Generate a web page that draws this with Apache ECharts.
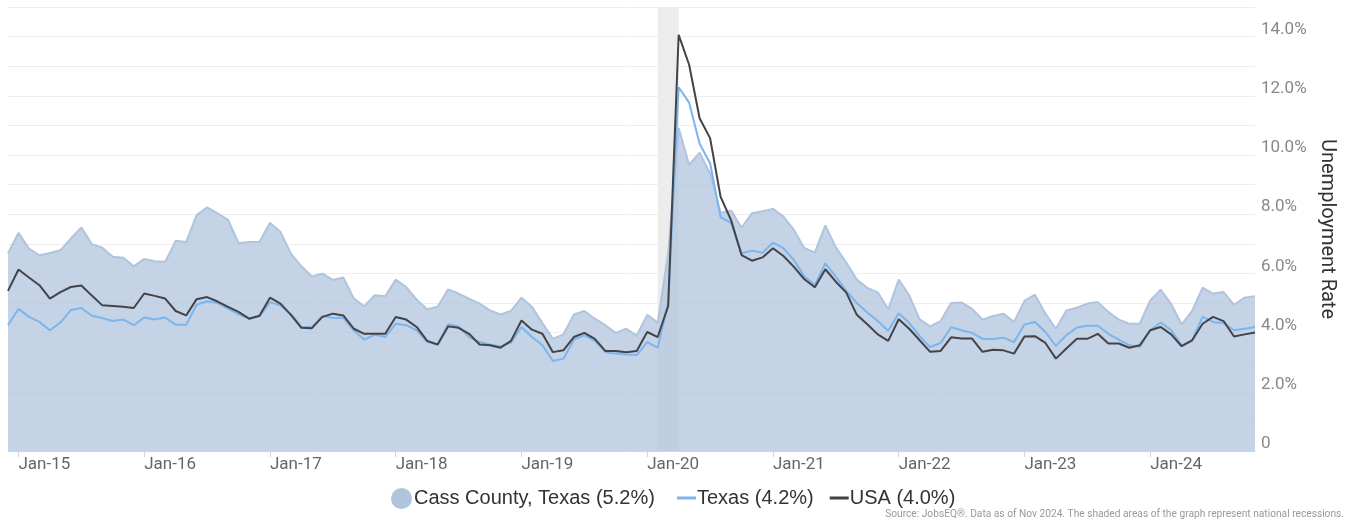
<!DOCTYPE html>
<html>
<head>
<meta charset="utf-8">
<script src="https://cdn.jsdelivr.net/npm/echarts@6/dist/echarts.min.js"></script>
<style>
  html, body { margin: 0; padding: 0; background: #ffffff; }
  #chart { width: 1348px; height: 521px; }
</style>
</head>
<body>
<div id="chart"></div>
<script>
// Monthly categories, Dec 2014 .. Nov 2024
const categories = [
  'Dec-14',
  'Jan-15','Feb-15','Mar-15','Apr-15','May-15','Jun-15','Jul-15','Aug-15','Sep-15','Oct-15','Nov-15','Dec-15',
  'Jan-16','Feb-16','Mar-16','Apr-16','May-16','Jun-16','Jul-16','Aug-16','Sep-16','Oct-16','Nov-16','Dec-16',
  'Jan-17','Feb-17','Mar-17','Apr-17','May-17','Jun-17','Jul-17','Aug-17','Sep-17','Oct-17','Nov-17','Dec-17',
  'Jan-18','Feb-18','Mar-18','Apr-18','May-18','Jun-18','Jul-18','Aug-18','Sep-18','Oct-18','Nov-18','Dec-18',
  'Jan-19','Feb-19','Mar-19','Apr-19','May-19','Jun-19','Jul-19','Aug-19','Sep-19','Oct-19','Nov-19','Dec-19',
  'Jan-20','Feb-20','Mar-20','Apr-20','May-20','Jun-20','Jul-20','Aug-20','Sep-20','Oct-20','Nov-20','Dec-20',
  'Jan-21','Feb-21','Mar-21','Apr-21','May-21','Jun-21','Jul-21','Aug-21','Sep-21','Oct-21','Nov-21','Dec-21',
  'Jan-22','Feb-22','Mar-22','Apr-22','May-22','Jun-22','Jul-22','Aug-22','Sep-22','Oct-22','Nov-22','Dec-22',
  'Jan-23','Feb-23','Mar-23','Apr-23','May-23','Jun-23','Jul-23','Aug-23','Sep-23','Oct-23','Nov-23','Dec-23',
  'Jan-24','Feb-24','Mar-24','Apr-24','May-24','Jun-24','Jul-24','Aug-24','Sep-24','Oct-24','Nov-24'
];

const seriesNames = ['Cass County, Texas (5.2%)', 'Texas (4.2%)', 'USA (4.0%)'];

const cassCounty = [
  6.67,
  7.37,6.84,6.61,6.69,6.78,7.18,7.55,6.99,6.87,6.56,6.53,6.24,
  6.49,6.41,6.39,7.10,7.06,7.97,8.23,8.03,7.81,7.03,7.06,7.06,
  7.71,7.40,6.67,6.24,5.90,5.99,5.78,5.86,5.15,4.89,5.26,5.23,
  5.79,5.54,5.11,4.79,4.87,5.46,5.32,5.15,4.98,4.75,4.61,4.73,
  5.18,4.87,4.32,3.79,3.94,4.61,4.73,4.47,4.25,3.99,4.13,3.90,
  4.60,4.34,6.68,10.91,9.67,10.08,9.38,8.05,8.12,7.55,8.03,8.10,
  8.18,7.92,7.47,6.85,6.71,7.62,6.88,6.37,5.79,5.51,5.36,4.79,
  5.79,5.26,4.45,4.21,4.39,5.00,5.02,4.80,4.44,4.56,4.64,4.36,
  5.07,5.28,4.64,4.13,4.75,4.84,4.98,5.03,4.70,4.44,4.30,4.30,
  5.09,5.45,4.96,4.28,4.73,5.52,5.32,5.37,4.94,5.18,5.23
];

const texas = [
  4.25,
  4.80,4.53,4.36,4.08,4.34,4.76,4.83,4.57,4.49,4.39,4.44,4.25,
  4.51,4.44,4.51,4.27,4.26,4.94,5.06,5.00,4.81,4.62,4.47,4.55,
  5.03,4.92,4.62,4.19,4.19,4.55,4.50,4.49,4.08,3.76,3.93,3.85,
  4.30,4.25,4.08,3.68,3.60,4.28,4.21,3.85,3.68,3.60,3.53,3.66,
  4.19,3.85,3.57,3.04,3.12,3.76,3.91,3.72,3.34,3.29,3.26,3.24,
  3.68,3.49,5.00,12.29,11.77,10.38,9.72,7.90,7.71,6.68,6.77,6.70,
  7.04,6.85,6.45,5.89,5.61,6.34,5.89,5.41,5.00,4.68,4.39,4.06,
  4.65,4.33,3.88,3.51,3.65,4.18,4.08,3.99,3.79,3.78,3.83,3.68,
  4.27,4.36,4.02,3.55,3.91,4.17,4.23,4.23,3.96,3.76,3.57,3.51,
  4.08,4.34,4.08,3.57,3.74,4.53,4.36,4.32,4.08,4.13,4.19
];

const usa = [
  5.41,
  6.13,5.86,5.60,5.15,5.37,5.54,5.59,5.25,4.92,4.90,4.87,4.83,
  5.32,5.24,5.15,4.73,4.58,5.13,5.20,5.05,4.87,4.70,4.47,4.57,
  5.18,4.98,4.60,4.16,4.15,4.53,4.64,4.58,4.13,3.96,3.96,3.96,
  4.53,4.44,4.19,3.72,3.60,4.21,4.16,3.96,3.60,3.57,3.49,3.72,
  4.41,4.10,3.96,3.34,3.40,3.85,3.99,3.79,3.38,3.38,3.34,3.38,
  4.02,3.85,4.90,14.06,13.05,11.24,10.57,8.59,7.80,6.62,6.43,6.54,
  6.85,6.59,6.22,5.80,5.53,6.14,5.72,5.35,4.60,4.28,3.94,3.72,
  4.45,4.13,3.74,3.35,3.38,3.84,3.80,3.80,3.35,3.42,3.40,3.29,
  3.87,3.88,3.65,3.12,3.46,3.79,3.79,3.96,3.63,3.63,3.49,3.57,
  4.08,4.19,3.94,3.54,3.74,4.30,4.53,4.39,3.87,3.94,4.00
];

// National recession (shaded band)
const recessionStart = 'Feb-20';
const recessionEnd = 'Apr-20';

const yMin = 0, yMax = 15, yStep = 1;
const sourceNote = 'Source: JobsEQ®. Data as of Nov 2024. The shaded areas of the graph represent national recessions.';

const isJan = (idx, val) => String(val).indexOf('Jan') === 0;

const chart = echarts.init(document.getElementById('chart'), null, { renderer: 'canvas' });
chart.setOption({
  animation: false,
  backgroundColor: '#ffffff',
  grid: { left: 8, right: 93, top: 7, bottom: 70, containLabel: false },
  xAxis: {
    type: 'category',
    data: categories,
    boundaryGap: false,
    axisLine: { show: true, lineStyle: { color: '#ccd6eb', width: 1 } },
    axisTick: { show: true, interval: isJan, length: 6, lineStyle: { color: '#ccd6eb' } },
    axisLabel: {
      interval: isJan,
      align: 'left',
      margin: 5,
      color: '#666666',
      fontFamily: 'Roboto',
      fontSize: 17
    },
    splitLine: { show: false }
  },
  yAxis: {
    type: 'value',
    position: 'right',
    min: yMin, max: yMax, interval: yStep,
    axisLine: { show: false },
    axisTick: { show: false },
    splitLine: { show: true, lineStyle: { color: '#eeeeee', width: 1 } },
    axisLabel: {
      margin: 6,
      color: '#888888',
      fontFamily: 'Roboto',
      fontSize: 17,
      verticalAlign: 'bottom',
      lineHeight: 14,
      formatter: function (v) {
        if (v % 2 !== 0) return '';
        return v === 0 ? '0' : v.toFixed(1) + '%';
      }
    },
    name: 'Unemployment Rate',
    nameLocation: 'middle',
    nameRotate: -90,
    nameGap: 58,
    nameTextStyle: { color: '#333333', fontFamily: 'Roboto', fontSize: 20 }
  },
  legend: [
    {
      data: [{ name: seriesNames[0], icon: 'circle' }],
      left: 386, top: 483,
      itemWidth: 21, itemHeight: 21, itemGap: 13,
      textStyle: { color: '#333333', fontFamily: 'Liberation Sans, Arial', fontSize: 20, padding: [0, 0, 0, -3] }
    },
    {
      data: [{ name: seriesNames[1], icon: 'rect' }, { name: seriesNames[2], icon: 'rect' }],
      left: 672, top: 483,
      itemWidth: 19, itemHeight: 3, itemGap: 16,
      textStyle: { color: '#333333', fontFamily: 'Liberation Sans, Arial', fontSize: 20, padding: [0, 0, 0, -4] }
    }
  ],
  graphic: [
    {
      type: 'text', right: 4, bottom: 2,
      style: { text: sourceNote, fill: '#999999', font: '10.2px Roboto' }
    }
  ],
  series: [
    {
      name: 'recession',
      type: 'line',
      data: [],
      z: 1,
      silent: true,
      markArea: {
        silent: true,
        itemStyle: { color: '#ececec' },
        data: [[{ xAxis: recessionStart }, { xAxis: recessionEnd }]]
      }
    },
    {
      name: seriesNames[0],
      type: 'line',
      data: cassCounty,
      z: 2,
      showSymbol: false,
      symbol: 'circle',
      itemStyle: { color: '#b0c4de' },
      lineStyle: { color: '#b0c4de', width: 2 },
      areaStyle: { color: '#b0c4de', opacity: 0.75 }
    },
    {
      name: seriesNames[1],
      type: 'line',
      data: texas,
      z: 3,
      showSymbol: false,
      itemStyle: { color: '#7cb5ec' },
      lineStyle: { color: '#7cb5ec', width: 2 }
    },
    {
      name: seriesNames[2],
      type: 'line',
      data: usa,
      z: 4,
      showSymbol: false,
      itemStyle: { color: '#434348' },
      lineStyle: { color: '#434348', width: 2 }
    }
  ]
});
</script>
</body>
</html>
